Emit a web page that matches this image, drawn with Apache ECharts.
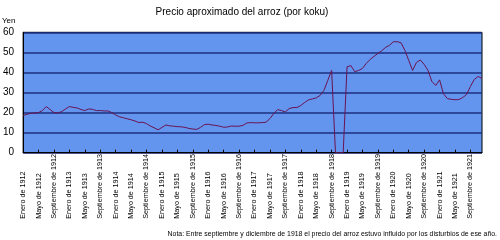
<!DOCTYPE html>
<html><head><meta charset="utf-8">
<script src="https://cdn.jsdelivr.net/npm/echarts@6/dist/echarts.min.js"></script>
<style>html,body{margin:0;padding:0;background:#fff}#c{width:500px;height:240px}</style>
</head><body><div id="c"></div>
<script>
const monthNames = ['Enero','Febrero','Marzo','Abril','Mayo','Junio','Julio','Agosto','Septiembre','Octubre','Noviembre','Diciembre'];
const years = [1912,1913,1914,1915,1916,1917,1918,1919,1920,1921];
const yTicks = [0,10,20,30,40,50,60];
const titleText = 'Precio aproximado del arroz (por koku)';
const unitText = 'Yen';
const noteText = 'Nota: Entre septiembre y diciembre de 1918 el precio del arroz estuvo influido por los disturbios de ese año.';
const prices = [
 18.5,19.2,19.6,19.8,20.0,21.0,23.0,21.5,20.0,19.8,20.5,21.8,
 23.0,22.6,22.3,21.5,21.0,21.8,21.6,21.0,21.0,20.8,20.8,20.0,
 18.8,17.9,17.4,16.9,16.4,15.8,15.0,15.2,14.5,13.3,12.4,11.4,
 12.6,13.8,13.4,13.2,13.0,12.9,12.6,12.1,11.8,11.6,12.6,14.0,
 14.2,13.8,13.6,13.2,12.7,12.8,13.3,13.2,13.2,13.6,14.8,15.0,
 14.9,14.9,15.0,15.2,17.0,19.5,21.5,21.0,20.3,22.0,22.5,22.5,
 23.5,25.0,26.3,26.8,27.3,28.5,31.0,36.0,41.0,0,0,0,
 42.8,43.4,40.4,41.0,42.0,44.5,46.5,48.0,49.5,50.8,52.5,53.5,
 55.3,55.3,54.8,51.0,46.0,41.0,45.0,46.2,44.0,41.0,35.5,33.5,
 36.3,29.4,27.0,26.6,26.4,26.5,27.5,29.0,33.0,36.5,38.0,37.0
];
const categories = [];
years.forEach(y => monthNames.forEach(m => categories.push(m + ' de ' + y)));

const chart = echarts.init(document.getElementById('c'), null, {renderer:'canvas'});
const FONT = 'Liberation Sans, Arial, sans-serif';
chart.setOption({
  animation:false,
  backgroundColor:'#ffffff',
  grid:{left:22.3, top:32.3, right:18, bottom:87.3, show:true, backgroundColor:'#6394ee', borderColor:'#000', borderWidth:1},
  graphic:[
    {type:'text', style:{text:titleText, x:242, y:12, fontSize:10, fontFamily:FONT, fill:'#000', textAlign:'center', textVerticalAlign:'middle'}},
    {type:'text', style:{text:unitText, x:2, y:20.5, fontSize:8, fontFamily:FONT, fill:'#000', textAlign:'left', textVerticalAlign:'middle'}},
    {type:'text', style:{text:noteText, x:497, y:234.5, fontSize:6.9, fontFamily:FONT, fill:'#000', textAlign:'right', textVerticalAlign:'middle'}}
  ],
  xAxis:{
    type:'category', data:categories, boundaryGap:false,
    axisLine:{lineStyle:{color:'#000', width:1}},
    axisTick:{interval:3, inside:true, length:3, lineStyle:{color:'#000'}},
    axisLabel:{interval:3, rotate:90, margin:0, fontSize:7.2, fontFamily:FONT, color:'#000',
      formatter: v => '{a|' + v + '}',
      rich:{a:{width:66, align:'left', fontSize:7.2, fontFamily:FONT, color:'#000'}}},
    splitLine:{show:false}
  },
  yAxis:{
    type:'value', min:yTicks[0], max:yTicks[yTicks.length-1], interval:10,
    axisLine:{show:true, lineStyle:{color:'#000'}},
    axisTick:{show:false},
    axisLabel:{fontSize:10, fontFamily:FONT, color:'#000', margin:9},
    splitLine:{show:true, lineStyle:{color:'#1c2f80', width:1.5}}
  },
  series:[{type:'line', data:prices, showSymbol:false, symbol:'none', lineStyle:{color:'#6a1450', width:1}, z:3}]
});
</script></body></html>
